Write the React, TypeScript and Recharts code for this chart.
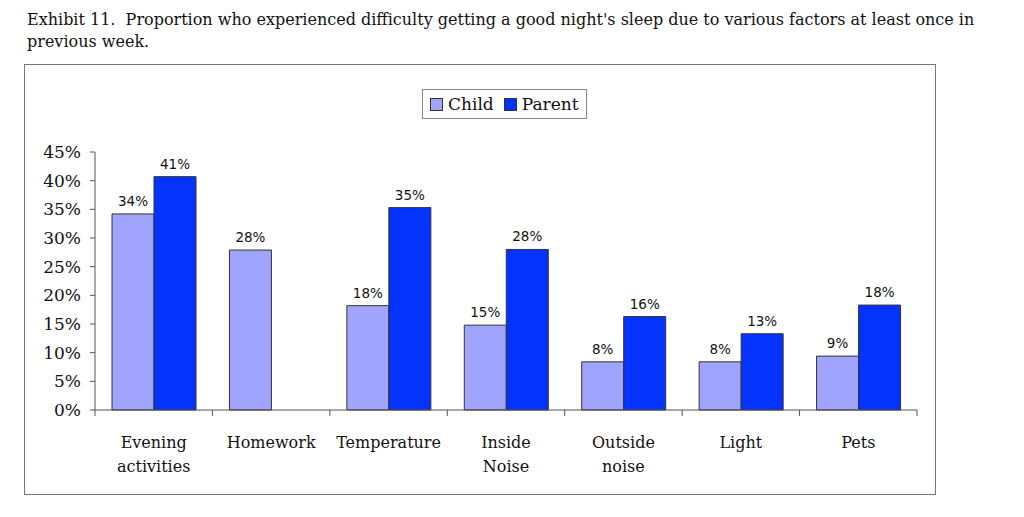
import React from 'react';
import { BarChart, Bar, XAxis, YAxis, LabelList } from 'recharts';

const categories = ['Evening\nactivities', 'Homework', 'Temperature', 'Inside\nNoise', 'Outside\nnoise', 'Light', 'Pets'];
const childValues = [34.2, 27.9, 18.2, 14.8, 8.4, 8.4, 9.4];
const parentValues = [40.7, null, 35.3, 28, 16.3, 13.3, 18.3];
const yTicks = [0, 5, 10, 15, 20, 25, 30, 35, 40, 45];

const CHILD = '#A1A4FD';
const PARENT = '#0433FF';

const data = categories.map((name, i) => ({ name, child: childValues[i], parent: parentValues[i] }));

const CHART_W = 912;
const CHART_H = 431;
const MARGIN = { top: 88, right: 19, left: 0, bottom: 0 };
const Y_W = 71;
const band = (CHART_W - MARGIN.right - Y_W) / categories.length;

const serif = '"DejaVu Serif", serif';
const sans = '"DejaVu Sans", sans-serif';

const XTick = (props: any) => {
  const { x, y, payload, index } = props;
  const lines = String(payload.value).split('\n');
  return (
    <g>
      <line x1={x - band / 2} x2={x - band / 2} y1={y - 8} y2={y - 2} stroke="#555" />
      {index === categories.length - 1 && (
        <line x1={x + band / 2} x2={x + band / 2} y1={y - 8} y2={y - 2} stroke="#555" />
      )}
      <text x={x} y={y + 30} textAnchor="middle" fontFamily={serif} fontSize={16} fill="#111">
        {lines.map((l, i) => (
          <tspan key={i} x={x} dy={i === 0 ? 0 : 24}>{l}</tspan>
        ))}
      </text>
    </g>
  );
};

const LegendBox = () => (
  <div style={{ position: 'absolute', left: 397, top: 24, display: 'flex', alignItems: 'center', border: '1px solid #888', padding: '4px 7px', fontFamily: serif, fontSize: 17, color: '#111', background: '#fff' }}>
    <span style={{ width: 11, height: 11, background: CHILD, border: '1px solid #333', marginRight: 5 }} />
    <span style={{ marginRight: 10 }}>Child</span>
    <span style={{ width: 11, height: 11, background: PARENT, border: '1px solid #333', marginRight: 5 }} />
    <span>Parent</span>
  </div>
);

const pct = (v: any) => (v == null ? '' : `${Math.round(v)}%`);

export default function App() {
  return (
    <div style={{ position: 'absolute', left: 0, top: 0, width: 1024, height: 517, background: '#fff' }}>
      <div style={{ position: 'absolute', left: 27, top: 9, width: 990, fontFamily: serif, fontSize: 16, lineHeight: '22px', color: '#111' }}>
        Exhibit 11.&nbsp; Proportion who experienced difficulty getting a good night's sleep due to various factors at least once in previous week.
      </div>
      <div style={{ position: 'absolute', left: 24, top: 64, width: CHART_W, height: CHART_H, border: '1px solid #777', boxSizing: 'border-box' }}>
        <LegendBox />
        <BarChart width={CHART_W} height={CHART_H} data={data} margin={MARGIN} barSize={42} barGap={0} style={{ position: 'absolute', left: -1, top: -1 }}>
          <XAxis dataKey="name" interval={0} tickLine={false} axisLine={{ stroke: '#555' }} height={85} tick={<XTick />} />
          <YAxis
            width={Y_W}
            domain={[0, 45]}
            ticks={yTicks}
            interval={0}
            tickFormatter={(v) => `${v}%`}
            axisLine={{ stroke: '#555' }}
            tickLine={{ stroke: '#555' }}
            tickSize={5}
            tickMargin={9}
            tick={{ fontFamily: serif, fontSize: 17, fill: '#111' }}
          />
          <Bar dataKey="child" name="Child" fill={CHILD} stroke="#333" strokeWidth={1} isAnimationActive={false}>
            <LabelList dataKey="child" position="top" offset={8} formatter={pct} style={{ fontFamily: sans, fontSize: 13.5, fill: '#111' }} />
          </Bar>
          <Bar dataKey="parent" name="Parent" fill={PARENT} stroke="#333" strokeWidth={1} isAnimationActive={false}>
            <LabelList dataKey="parent" position="top" offset={8} formatter={pct} style={{ fontFamily: sans, fontSize: 13.5, fill: '#111' }} />
          </Bar>
        </BarChart>
      </div>
    </div>
  );
}
